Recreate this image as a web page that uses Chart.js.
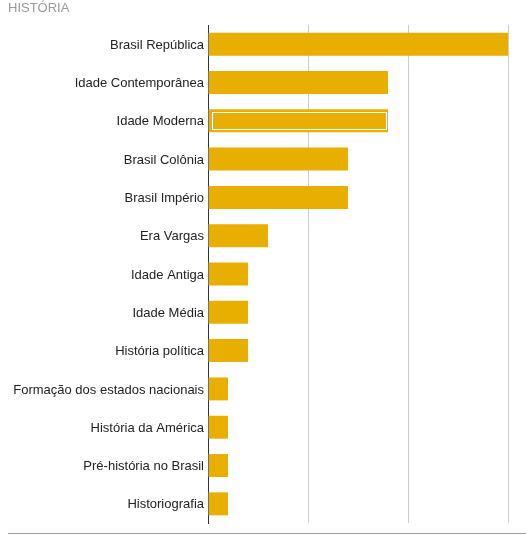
<!DOCTYPE html>
<html>
<head>
<meta charset="utf-8">
<script src="https://cdn.jsdelivr.net/npm/chart.js@4/dist/chart.umd.min.js"></script>
<style>
html,body{margin:0;padding:0;background:#fff;}
canvas{display:block;}
</style>
</head>
<body>
<canvas id="c" width="526" height="540"></canvas>
<script>
const titleText = "HISTÓRIA";
const categories = [
  "Brasil República",
  "Idade Contemporânea",
  "Idade Moderna",
  "Brasil Colônia",
  "Brasil Império",
  "Era Vargas",
  "Idade Antiga",
  "Idade Média",
  "História política",
  "Formação dos estados nacionais",
  "História da América",
  "Pré-história no Brasil",
  "Historiografia"
];
const values = [15, 9, 9, 7, 7, 3, 2, 2, 2, 1, 1, 1, 1];
const highlightIndex = 2;
const xTicks = [0, 5, 10, 15];

const FONT = "'Liberation Sans', Arial, sans-serif";
const GOLD = "#E9AF00";

const highlightPlugin = {
  id: 'highlight',
  afterDatasetsDraw(chart) {
    const el = chart.getDatasetMeta(0).data[highlightIndex];
    if (!el) return;
    const p = el.getProps(['x', 'y', 'base', 'height'], true);
    const ctx = chart.ctx;
    const top = p.y - p.height / 2;
    ctx.save();
    ctx.strokeStyle = '#ffffff';
    ctx.lineWidth = 1;
    ctx.strokeRect(Math.round(p.base) + 3.5, Math.round(top) + 3.5, Math.round(p.x - p.base) - 6, Math.round(p.height) - 6);
    ctx.restore();
  }
};

const bottomLine = {
  id: 'bottomLine',
  afterDraw(chart) {
    const ctx = chart.ctx;
    ctx.save();
    ctx.strokeStyle = '#999999';
    ctx.lineWidth = 1;
    ctx.beginPath();
    ctx.moveTo(8, 533.5);
    ctx.lineTo(526, 533.5);
    ctx.stroke();
    ctx.restore();
  }
};

new Chart(document.getElementById('c'), {
  type: 'bar',
  data: {
    labels: categories,
    datasets: [{
      data: values,
      backgroundColor: GOLD,
      borderWidth: 0,
      categoryPercentage: 1,
      barPercentage: 0.6
    }]
  },
  options: {
    responsive: false,
    animation: false,
    indexAxis: 'y',
    layout: { padding: { left: 8, right: 18, top: 0, bottom: 17 } },
    plugins: {
      legend: { display: false },
      tooltip: { enabled: false },
      title: {
        display: true,
        text: titleText,
        align: 'start',
        color: '#999999',
        font: { family: FONT, size: 13, weight: 'normal' },
        padding: { top: 0.5, bottom: 8.9 }
      }
    },
    scales: {
      x: {
        min: 0,
        max: 15,
        afterBuildTicks(scale) { scale.ticks = xTicks.map(v => ({ value: v })); },
        ticks: { display: false },
        grid: {
          drawTicks: false,
          color: ctx => (ctx.tick && ctx.tick.value === 0) ? 'rgba(0,0,0,0)' : '#cccccc',
          lineWidth: 1
        },
        border: { display: false }
      },
      y: {
        afterFit(scale) { scale.width = 200; },
        grid: { display: false, drawTicks: false },
        border: { display: true, color: '#333333', width: 1 },
        ticks: {
          color: '#222222',
          padding: 4,
          labelOffset: 1,
          font: { family: FONT, size: 13 }
        }
      }
    }
  },
  plugins: [highlightPlugin, bottomLine]
});
</script>
</body>
</html>
